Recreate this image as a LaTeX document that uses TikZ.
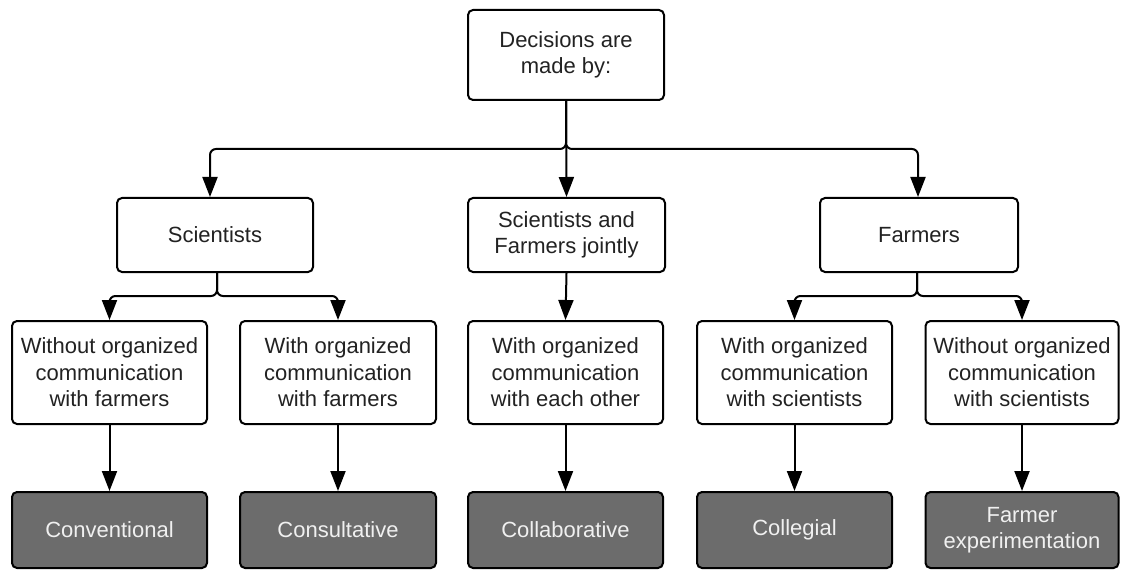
\documentclass[tikz,border=0pt]{standalone}
\usepackage{fontspec}
\setmainfont{Liberation Sans}
\usetikzlibrary{arrows.meta}
\definecolor{darkfill}{HTML}{6C6C6C}
\definecolor{txt}{HTML}{222222}
\begin{document}
\begin{tikzpicture}[x=1pt,y=-1pt,
  box/.style={draw=black, line width=2pt, rounded corners=5pt, align=center,
    inner sep=0pt, text=txt, font=\fontsize{22}{26.5}\selectfont},
  lightbox/.style={box, fill=white},
  darkbox/.style={box, fill=darkfill, text=white!94!black},
  conn/.style={draw=black, line width=2pt, rounded corners=6pt,
    -{Triangle[length=20pt,width=15pt]}}]
\useasboundingbox (0,0) rectangle (1121,572);
% top
\node[lightbox, minimum width=196pt, minimum height=90pt] (top) at (566,55) {Decisions are\\made by:};
% level 2
\node[lightbox, minimum width=196pt, minimum height=74pt] (sci) at (215,235) {Scientists};
\node[lightbox, minimum width=197pt, minimum height=74pt] (joint) at (566.5,235) {Scientists and\\Farmers jointly};
\node[lightbox, minimum width=198pt, minimum height=74pt] (farm) at (919,235) {Farmers};
% level 3
\node[lightbox, minimum width=195pt, minimum height=103pt] (w1) at (109.5,372.5) {Without organized\\communication\\with farmers};
\node[lightbox, minimum width=196pt, minimum height=103pt] (w2) at (338,372.5) {With organized\\communication\\with farmers};
\node[lightbox, minimum width=195pt, minimum height=103pt] (w3) at (565.5,372.5) {With organized\\communication\\with each other};
\node[lightbox, minimum width=195pt, minimum height=103pt] (w4) at (794.5,372.5) {With organized\\communication\\with scientists};
\node[lightbox, minimum width=193pt, minimum height=103pt] (w5) at (1022,372.5) {Without organized\\communication\\with scientists};
% level 4
\node[darkbox, minimum width=195pt, minimum height=76pt] (r1) at (109.5,530) {Conventional};
\node[darkbox, minimum width=196pt, minimum height=76pt] (r2) at (338,530) {Consultative};
\node[darkbox, minimum width=195pt, minimum height=76pt] (r3) at (565.5,530) {Collaborative};
\node[darkbox, minimum width=195pt, minimum height=76pt] (r4) at (794.5,530) {Collegial};
\node[darkbox, minimum width=193pt, minimum height=76pt] (r5) at (1022,530) {Farmer\\experimentation};
% connectors level 1 -> 2
\coordinate (sciin) at ([xshift=-5pt]sci.north);
\coordinate (farmin) at ([xshift=-1pt]farm.north);
\draw[conn] (top.south) -- (566,149) -| (sciin);
\draw[conn] (top.south) -- (566,149) -| (farmin);
\draw[conn] (top.south) -- (joint.north);
% level 2 -> 3
\coordinate (scout) at ([xshift=2pt]sci.south);
\coordinate (faout) at ([xshift=-2pt]farm.south);
\draw[conn] (scout) -- ++(0,23) -| (w1.north);
\draw[conn] (scout) -- ++(0,23) -| (w2.north);
\draw[conn] (joint.south) -- (w3.north);
\draw[conn] (faout) -- ++(0,23) -| (w4.north);
\draw[conn] (faout) -- ++(0,23) -| (w5.north);
% level 3 -> 4
\draw[conn] (w1.south) -- (r1.north);
\draw[conn] (w2.south) -- (r2.north);
\draw[conn] (w3.south) -- (r3.north);
\draw[conn] (w4.south) -- (r4.north);
\draw[conn] (w5.south) -- (r5.north);
\end{tikzpicture}
\end{document}
